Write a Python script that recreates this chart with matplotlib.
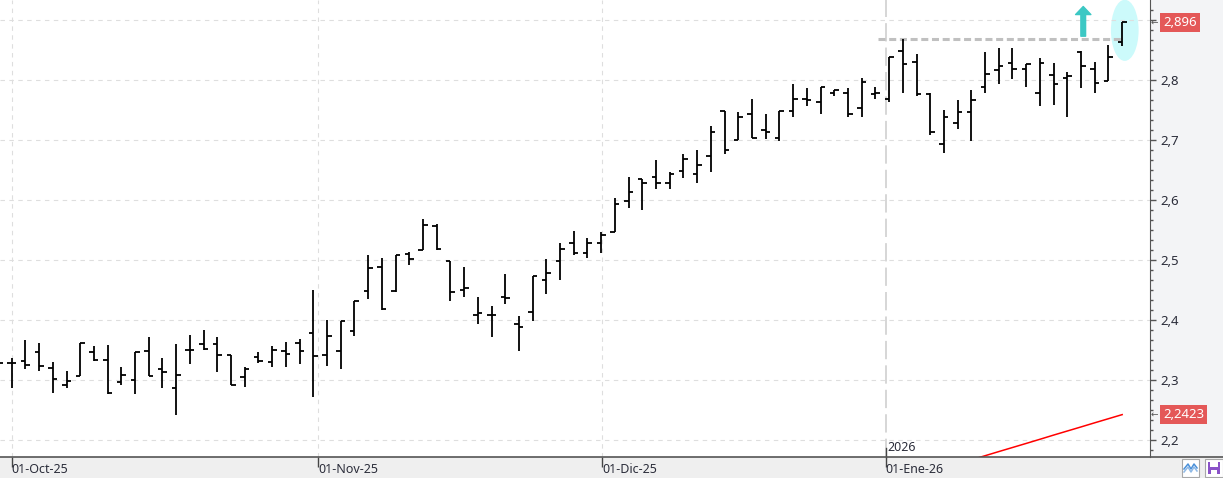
import numpy as np
import matplotlib
matplotlib.use("Agg")
import matplotlib.pyplot as plt
from matplotlib.patches import Ellipse, Rectangle, FancyArrowPatch
from matplotlib.lines import Line2D
from matplotlib.ticker import FuncFormatter, MultipleLocator
from matplotlib.transforms import blended_transform_factory

plt.rcParams['font.family'] = ['Noto Sans', 'DejaVu Sans']

# daily OHLC, bar index -1 (30-Sep) .. 81 (last session)
opens = [2.325, 2.328, 2.332, 2.346, 2.320, 2.292, 2.306, 2.346, 2.334, 2.297,
         2.300, 2.349, 2.319, 2.286, 2.350, 2.360, 2.360, 2.341, 2.305, 2.338,
         2.330, 2.349, 2.362, 2.379, 2.341, 2.349, 2.381, 2.448, 2.488, 2.449,
         2.510, 2.516, 2.557, 2.499, 2.450, 2.409, 2.408, 2.439, 2.394, 2.414,
         2.467, 2.499, 2.529, 2.511, 2.529, 2.546, 2.599, 2.635, 2.639, 2.628,
         2.649, 2.644, 2.673, 2.749, 2.700, 2.743, 2.716, 2.704, 2.749, 2.769,
         2.764, 2.778, 2.778, 2.753, 2.776, 2.769, 2.849, 2.830, 2.776, 2.694,
         2.728, 2.746, 2.789, 2.816, 2.829, 2.818, 2.779, 2.809, 2.803, 2.846,
         2.819, 2.798, 2.863]
highs = [2.336, 2.336, 2.367, 2.361, 2.330, 2.315, 2.361, 2.357, 2.358, 2.321,
         2.346, 2.372, 2.336, 2.360, 2.375, 2.384, 2.371, 2.341, 2.321, 2.346,
         2.357, 2.364, 2.369, 2.450, 2.400, 2.398, 2.432, 2.508, 2.504, 2.508,
         2.514, 2.569, 2.560, 2.499, 2.488, 2.438, 2.424, 2.477, 2.406, 2.474,
         2.501, 2.528, 2.548, 2.536, 2.546, 2.604, 2.638, 2.635, 2.667, 2.646,
         2.676, 2.683, 2.723, 2.749, 2.746, 2.768, 2.744, 2.748, 2.794, 2.786,
         2.788, 2.784, 2.786, 2.803, 2.789, 2.838, 2.868, 2.843, 2.778, 2.750,
         2.767, 2.783, 2.846, 2.853, 2.854, 2.827, 2.836, 2.828, 2.814, 2.849,
         2.830, 2.859, 2.896]
lows = [2.318, 2.286, 2.318, 2.315, 2.278, 2.286, 2.306, 2.332, 2.276, 2.291,
        2.276, 2.307, 2.286, 2.241, 2.326, 2.350, 2.314, 2.291, 2.289, 2.328,
        2.321, 2.321, 2.326, 2.271, 2.324, 2.319, 2.374, 2.435, 2.416, 2.446,
        2.491, 2.516, 2.516, 2.431, 2.439, 2.394, 2.371, 2.427, 2.349, 2.399,
        2.444, 2.467, 2.509, 2.504, 2.511, 2.546, 2.587, 2.583, 2.619, 2.619,
        2.636, 2.629, 2.646, 2.676, 2.700, 2.704, 2.702, 2.698, 2.739, 2.756,
        2.743, 2.774, 2.739, 2.739, 2.769, 2.764, 2.779, 2.774, 2.709, 2.678,
        2.719, 2.699, 2.779, 2.794, 2.802, 2.789, 2.757, 2.759, 2.738, 2.786,
        2.779, 2.798, 2.856]
closes = [2.329, 2.329, 2.325, 2.324, 2.301, 2.298, 2.361, 2.333, 2.279, 2.308,
          2.346, 2.307, 2.314, 2.308, 2.350, 2.351, 2.341, 2.291, 2.318, 2.331,
          2.350, 2.344, 2.349, 2.340, 2.374, 2.398, 2.432, 2.486, 2.419, 2.508,
          2.501, 2.558, 2.519, 2.446, 2.454, 2.411, 2.409, 2.436, 2.389, 2.474,
          2.478, 2.518, 2.511, 2.529, 2.542, 2.593, 2.613, 2.629, 2.629, 2.644,
          2.669, 2.659, 2.713, 2.683, 2.738, 2.704, 2.714, 2.748, 2.769, 2.766,
          2.788, 2.783, 2.744, 2.796, 2.778, 2.838, 2.827, 2.776, 2.713, 2.739,
          2.746, 2.767, 2.810, 2.824, 2.818, 2.827, 2.829, 2.793, 2.806, 2.823,
          2.795, 2.838, 2.896]

# red moving average (only the tail is visible), bar index 70..81
ma_values = [2.1670, 2.1738, 2.1807, 2.1875, 2.1943, 2.2012, 2.2082, 2.2150,
             2.2218, 2.2287, 2.2355, 2.2423]

# month markers (position in bar units) and labels
month_pos = [0.0, 22.36, 43.07]
month_labels = ['01-Oct-25', '01-Nov-25', '01-Dic-25']
year_pos = 63.75
year_label = '01-Ene-26'

resistance = 2.868
last_price = 2.896
ma_last = 2.2423

x = np.arange(-1, len(opens) - 1)
ma_x = np.arange(70, 70 + len(ma_values))

W, H = 1223, 478
fig = plt.figure(figsize=(W / 100, H / 100), dpi=100, facecolor='#f3f4f6')

# bottom strip background (behind the axes)
fig.patches.append(Rectangle((0, 0), 1, 21 / H, transform=fig.transFigure,
                             facecolor='#efefef', edgecolor='none', zorder=-1))

ax = fig.add_axes([0, 21 / H, 1150 / W, 457 / H])
ax.set_facecolor('white')
ax.set_zorder(1)

ymin, ymax = 2.17167, 2.93333
ax.set_xlim(-0.853, 83.03)
ax.set_ylim(ymin, ymax)

# grid
ax.yaxis.set_major_locator(MultipleLocator(0.1))
ax.yaxis.set_minor_locator(MultipleLocator(0.1 / 6))
ax.grid(axis='y', which='major', color='#dedede', lw=0.8, ls=(0, (4, 4)))
for p in month_pos:
    ax.axvline(p, color='#dedede', lw=0.8, ls=(0, (4, 4)), zorder=0.5)
ax.axvline(year_pos, color='#cccccc', lw=1.1, ls=(0, (12, 4)), zorder=0.5)

# highlight ellipse, resistance and arrow
ax.add_patch(Ellipse((81.19, 2.8828), width=2.02, height=0.102,
                     facecolor='#ccfafb', edgecolor='none', zorder=1))
ax.hlines(resistance, 63.2, 81.0, color='#c0c0c0', lw=2.2,
          linestyles=[(0, (2.3, 1.2))], zorder=1.5)
ax.add_patch(FancyArrowPatch((78.16, 2.873), (78.16, 2.9225),
                             arrowstyle='simple,head_length=0.58,head_width=1.1,tail_width=0.34',
                             mutation_scale=10, shrinkA=0, shrinkB=0,
                             color='#3cc8c4', zorder=2))

# OHLC bars
cap = 0.33
ax.vlines(x, lows, highs, color='black', lw=1.3, zorder=3)
ax.hlines(opens, x - cap, x, color='black', lw=1.3, zorder=3)
ax.hlines(closes, x, x + cap, color='black', lw=1.3, zorder=3)

# moving average
ax.plot(ma_x, ma_values, color='#ff0000', lw=1.1, zorder=3)

# right axis
for s in ['top', 'left', 'bottom']:
    ax.spines[s].set_visible(False)
ax.spines['right'].set_color('#555555')
ax.yaxis.tick_right()
ax.yaxis.set_major_formatter(
    FuncFormatter(lambda v, p: '' if v > 2.85 else f'{v:.1f}'.replace('.', ',')))
ax.tick_params(axis='y', which='major', length=4.5, width=1, color='#555555',
               labelsize=9.5, labelcolor='#2b2d3a', pad=3)
ax.tick_params(axis='y', which='minor', length=2.2, width=1, color='#555555')

# x ticks in the bottom strip
ax.set_xticks(month_pos + [year_pos])
ax.set_xticklabels(month_labels + [year_label])
ax.tick_params(axis='x', length=7, width=1, color='#444444', labelsize=9,
               labelcolor='#2b2d3a', pad=-3)
for lab in ax.get_xticklabels():
    lab.set_horizontalalignment('left')
v448 = 2.8 - (448 - 80) / 600
ax.plot([year_pos, year_pos], [ymin, v448], color='#444444', lw=1, clip_on=False, zorder=4)
ax.annotate('2026', xy=(year_pos, ymin), xytext=(1.5, 2.5), textcoords='offset points',
            fontsize=9, color='#2b2d3a', ha='left', va='bottom')

# price labels on the right axis
tr = blended_transform_factory(ax.transAxes, ax.transData)
for val, txt in [(last_price, '2,896'), (ma_last, '2,2423')]:
    ax.text(1.0115, val, txt, transform=tr, fontsize=9.5, color='white',
            va='center', ha='left', clip_on=False, zorder=5,
            bbox=dict(facecolor='#e45858', edgecolor='none', boxstyle='square,pad=0.22'))
    ax.text(1.0005, val, '\u2190', transform=tr, fontsize=6.5, color='#555555',
            va='center', ha='left', clip_on=False, zorder=5)


def fx(px):
    return px / W


def fy(py):
    return 1 - py / H


fig.add_artist(Line2D([0, 1], [fy(457), fy(457)], color='#555555', lw=1.2, zorder=2))

# two small buttons at the bottom right
for bx in (1181.5, 1205):
    fig.patches.append(Rectangle((fx(bx), fy(476.5)), 17.5 / W, 17.5 / H,
                                 transform=fig.transFigure, facecolor='white',
                                 edgecolor='#a8a8a8', lw=0.8, zorder=2))
fig.add_artist(Line2D([fx(1184), fx(1188), fx(1191), fx(1194), fx(1197)],
                      [fy(469), fy(464), fy(469), fy(464), fy(468)],
                      color='#4a90d9', lw=1.1, zorder=3))
fig.add_artist(Line2D([fx(1184), fx(1188), fx(1191), fx(1194), fx(1197)],
                      [fy(472), fy(467), fy(472), fy(467), fy(471)],
                      color='#8fb9e6', lw=1.1, zorder=3))
fig.patches.append(Rectangle((fx(1207.5), fy(474)), 12.5 / W, 12.5 / H,
                             transform=fig.transFigure, facecolor='#8a52c8',
                             edgecolor='none', zorder=3))
fig.patches.append(Rectangle((fx(1210), fy(466.5)), 7.5 / W, 4.5 / H,
                             transform=fig.transFigure, facecolor='white',
                             edgecolor='none', zorder=4))
fig.patches.append(Rectangle((fx(1210.5), fy(474)), 6.5 / W, 4 / H,
                             transform=fig.transFigure, facecolor='white',
                             edgecolor='none', zorder=4))

fig.savefig('out.png', dpi=100, facecolor=fig.get_facecolor())
